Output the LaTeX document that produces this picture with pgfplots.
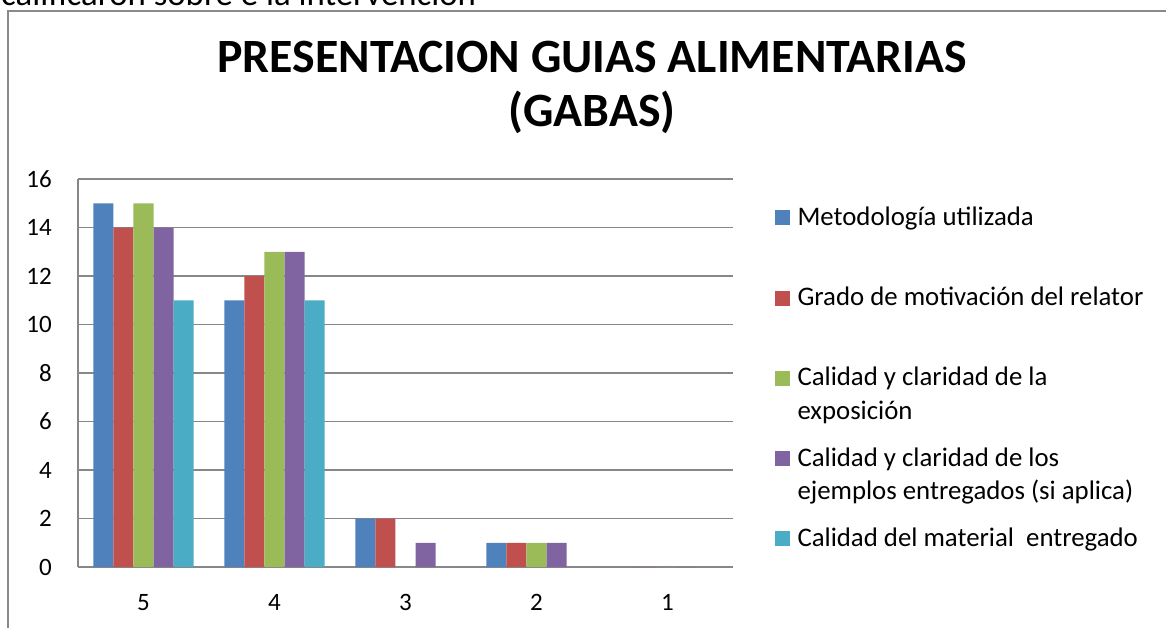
\documentclass[border=0pt]{standalone}
\usepackage{fontspec}
\setmainfont{Carlito}
\usepackage{pgfplots}
\pgfplotsset{compat=1.18}
\definecolor{cA}{HTML}{4F81BD}
\definecolor{cB}{HTML}{C0504D}
\definecolor{cC}{HTML}{9BBB59}
\definecolor{cD}{HTML}{8064A2}
\definecolor{cE}{HTML}{4BACC6}
\definecolor{gridc}{HTML}{878787}
\definecolor{framec}{HTML}{8A8A8A}
\newcommand{\lent}[2]{\vtop{\hbox{\strut #1}\hbox{\strut #2}}}
\newcommand{\tickfont}{\fontsize{25}{28}\selectfont}
\begin{document}
\begin{tikzpicture}
% cut-off text above the chart
\node[anchor=base west,inner sep=0pt,font=\fontsize{34.8}{40}\selectfont] at (1pt,621pt) {calificaron sobre e la intervención};
% chart frame
\draw[framec,line width=1.5pt] (8pt,-10pt) -- (8pt,616pt) -- (1180pt,616pt);
% title
\node[align=center,font=\fontsize{47.8}{54}\bfseries\selectfont,inner sep=0pt,anchor=base] at (592pt,500pt) {PRESENTACION GUIAS ALIMENTARIAS\\(GABAS)};
\begin{axis}[
  at={(78pt,60pt)}, anchor=south west,
  scale only axis, width=655pt, height=388pt,
  ybar=0pt, bar width=0.153,
  xmin=-0.5, xmax=4.5, ymin=0, ymax=16,
  xtick={0,1,2,3,4}, xticklabels={5,4,3,2,1},
  ytick={0,2,...,16},
  major tick length=0pt,
  axis x line*=bottom, axis y line*=left,
  axis line style={gridc,line width=1.4pt,-},
  ymajorgrids, grid style={gridc,line width=1.4pt},
  /pgf/number format/assume math mode=true,
  every tick label/.append style={font=\tickfont, inner sep=0pt},
  yticklabel style={font=\tickfont, anchor=east, xshift=-26pt},
  xticklabel style={font=\tickfont, anchor=base, yshift=-43pt},
  yticklabel={\tickfont\pgfmathprintnumber{\tick}},
  legend style={at={(1,1)}, anchor=north west, xshift=42pt, yshift=-20.9pt,
    draw=none, fill=none, inner sep=0pt, outer sep=0pt,
    row sep={80.25pt,between origins}, column sep=5.5pt,
    font=\fontsize{26.8}{33.5}\selectfont},
  legend cell align=left,
  legend style={cells={anchor=base west, inner sep=0pt}},
  legend image code/.code={\fill[#1] (0pt,0pt) rectangle (15pt,15pt);},
]
\addplot[fill=cA,draw=none] coordinates {(0,15) (1,11) (2,2) (3,1) (4,0)};
\addplot[fill=cB,draw=none] coordinates {(0,14) (1,12) (2,2) (3,1) (4,0)};
\addplot[fill=cC,draw=none] coordinates {(0,15) (1,13) (2,0) (3,1) (4,0)};
\addplot[fill=cD,draw=none] coordinates {(0,14) (1,13) (2,1) (3,1) (4,0)};
\addplot[fill=cE,draw=none] coordinates {(0,11) (1,11) (2,0) (3,0) (4,0)};
\legend{\lent{Metodología utilizada}{},
        \lent{Grado de motivación del relator}{},
        \lent{Calidad y claridad de la}{exposición},
        \lent{Calidad y claridad de los}{ejemplos entregados (si aplica)},
        \lent{Calidad del material\ \ entregado}{}}
\end{axis}
\pgfresetboundingbox
\useasboundingbox (0pt,0pt) rectangle (1166pt,627pt);
\end{tikzpicture}
\end{document}
